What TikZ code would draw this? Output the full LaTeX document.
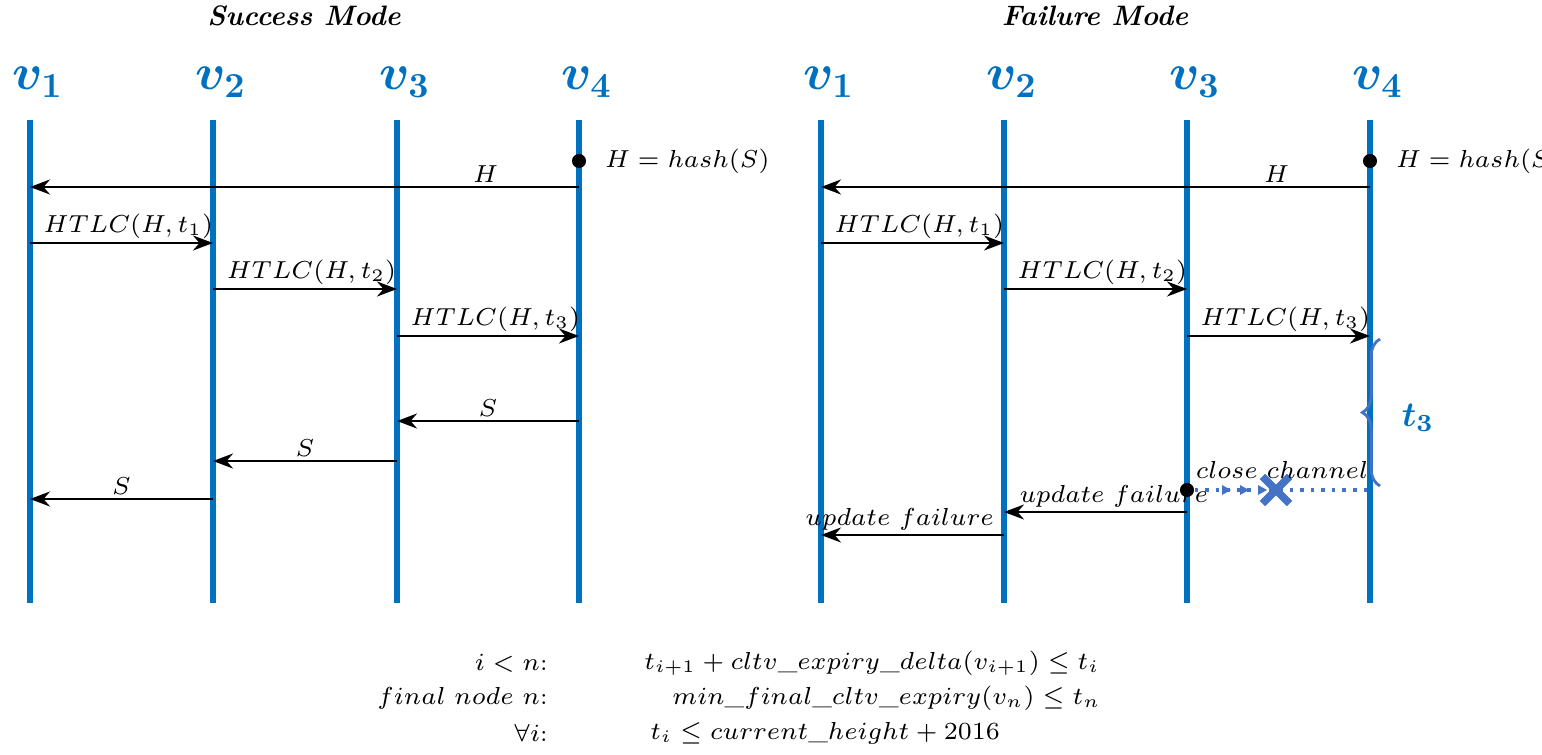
\documentclass[tikz,border=0pt]{standalone}
\usepackage{amsmath, amssymb}
\usetikzlibrary{arrows.meta, positioning, decorations.pathreplacing, shapes.misc}
\definecolor{lineblue}{RGB}{0,112,192}
\definecolor{softblue}{RGB}{68,114,196}
\newcommand{\lblfont}{\fontsize{6.6}{8}\selectfont}

\begin{document}
\begin{tikzpicture}[x=0.01cm, y=-0.01cm,
  >=Stealth,
  life/.style={lineblue, line width=1.5pt},
  vlabel/.style={text=lineblue, font=\Large},
  msg/.style={->, line width=0.6pt},
  mlabel/.style={font=\lblfont, inner sep=1pt, above},
  slabel/.style={font=\lblfont, inner sep=1pt, anchor=south west},
  title/.style={font=\footnotesize\bfseries\itshape},
  dotnode/.style={circle, fill=black, inner sep=0pt, minimum size=4pt}
]
\useasboundingbox (0,0) rectangle (1542,754);

% Titles
\node[title] (tS) at (304,16) {Success Mode};
\node[title] (tF) at (1095,16) {Failure Mode};

% Lifelines
\foreach \n/\x in {a1/30, a2/213, a3/397, a4/579, b1/821, b2/1004, b3/1187, b4/1370}{
  \coordinate (\n top) at (\x,120);
  \coordinate (\n bot) at (\x,603);
  \draw[life] (\n top) -- (\n bot);
}
\foreach \n/\x/\i in {a1/30/1, a2/213/2, a3/397/3, a4/579/4, b1/821/1, b2/1004/2, b3/1187/3, b4/1370/4}
  \node[vlabel] (\n lab) at (\x+8,82) {$\boldsymbol{v_{\i}}$};

% Success mode
\node[dotnode] (aH) at (579,161) {};
\node[font=\lblfont, anchor=west, inner sep=1pt] (aHt) [right=4pt of aH] {$H = hash(S)$};
\coordinate (aHs) at (579,187); \coordinate (aHe) at (30,187);
\draw[msg] (aHs) -- (aHe) node[mlabel, pos=0.17] {$H$};
\coordinate (a12) at (30,243); \coordinate (a12e) at (213,243);
\draw[msg] (a12) -- (a12e) node[slabel, pos=0.05] {$HTLC(H,t_1)$};
\coordinate (a23) at (213,289); \coordinate (a23e) at (397,289);
\draw[msg] (a23) -- (a23e) node[slabel, pos=0.05] {$HTLC(H,t_2)$};
\coordinate (a34) at (397,336); \coordinate (a34e) at (579,336);
\draw[msg] (a34) -- (a34e) node[slabel, pos=0.05] {$HTLC(H,t_3)$};
\coordinate (aS1) at (579,421); \coordinate (aS1e) at (397,421);
\draw[msg] (aS1) -- (aS1e) node[mlabel, pos=0.5] {$S$};
\coordinate (aS2) at (397,461); \coordinate (aS2e) at (213,461);
\draw[msg] (aS2) -- (aS2e) node[mlabel, pos=0.5] {$S$};
\coordinate (aS3) at (213,499); \coordinate (aS3e) at (30,499);
\draw[msg] (aS3) -- (aS3e) node[mlabel, pos=0.5] {$S$};

% Failure mode
\node[dotnode] (bH) at (1370,161) {};
\node[font=\lblfont, anchor=west, inner sep=1pt] (bHt) [right=4pt of bH] {$H = hash(S)$};
\coordinate (bHs) at (1370,187); \coordinate (bHe) at (821,187);
\draw[msg] (bHs) -- (bHe) node[mlabel, pos=0.17] {$H$};
\coordinate (b12) at (821,243); \coordinate (b12e) at (1004,243);
\draw[msg] (b12) -- (b12e) node[slabel, pos=0.05] {$HTLC(H,t_1)$};
\coordinate (b23) at (1004,289); \coordinate (b23e) at (1187,289);
\draw[msg] (b23) -- (b23e) node[slabel, pos=0.05] {$HTLC(H,t_2)$};
\coordinate (b34) at (1187,336); \coordinate (b34e) at (1370,336);
\draw[msg] (b34) -- (b34e) node[slabel, pos=0.05] {$HTLC(H,t_3)$};

% timeout brace
\coordinate (brTop) at (1380,339); \coordinate (brBot) at (1380,486);
\draw[softblue, line width=0.8pt, decorate, decoration={brace, amplitude=5pt}] (brBot) -- (brTop);
\node[text=lineblue] (t3lab) at (1418,418) {$\boldsymbol{t_3}$};

% close channel
\node[dotnode] (bC) at (1187,490) {};
\coordinate (bCe) at (1370,490);
\draw[softblue, line width=1pt, dotted] (bC) -- (bCe);
\foreach \x in {1222,1240,1258}
  \fill[softblue] (\x,485) -- (\x+9,490) -- (\x,495) -- cycle;
\node[cross out, draw=softblue, line width=2.2pt, minimum size=5.5pt, inner sep=0pt] (bX) at (1276,490) {};
\node[font=\lblfont, inner sep=1pt] (ccl) at (1282,470) {$close\ channel$};

\coordinate (bU1) at (1187,512); \coordinate (bU1e) at (1004,512);
\draw[msg] (bU1) -- (bU1e) node[mlabel, pos=0.4] {$update\ failure$};
\coordinate (bU2) at (1004,535); \coordinate (bU2e) at (821,535);
\draw[msg] (bU2) -- (bU2e) node[mlabel, pos=0.57] {$update\ failure$};

% Constraints
\node[font=\lblfont, anchor=east] (c1l) at (560,663) {$i < n$:};
\node[font=\lblfont, anchor=west] (c1r) at (632,663) {$t_{i+1} + cltv\_expiry\_delta(v_{i+1}) \le t_i$};
\node[font=\lblfont, anchor=east] (c2l) at (560,698) {$final\ node\ n$:};
\node[font=\lblfont, anchor=west] (c2r) at (660,698) {$min\_final\_cltv\_expiry(v_n) \le t_n$};
\node[font=\lblfont, anchor=east] (c3l) at (560,733) {$\forall i$:};
\node[font=\lblfont, anchor=west] (c3r) at (638,733) {$t_i \le current\_height + 2016$};
\end{tikzpicture}
\end{document}
